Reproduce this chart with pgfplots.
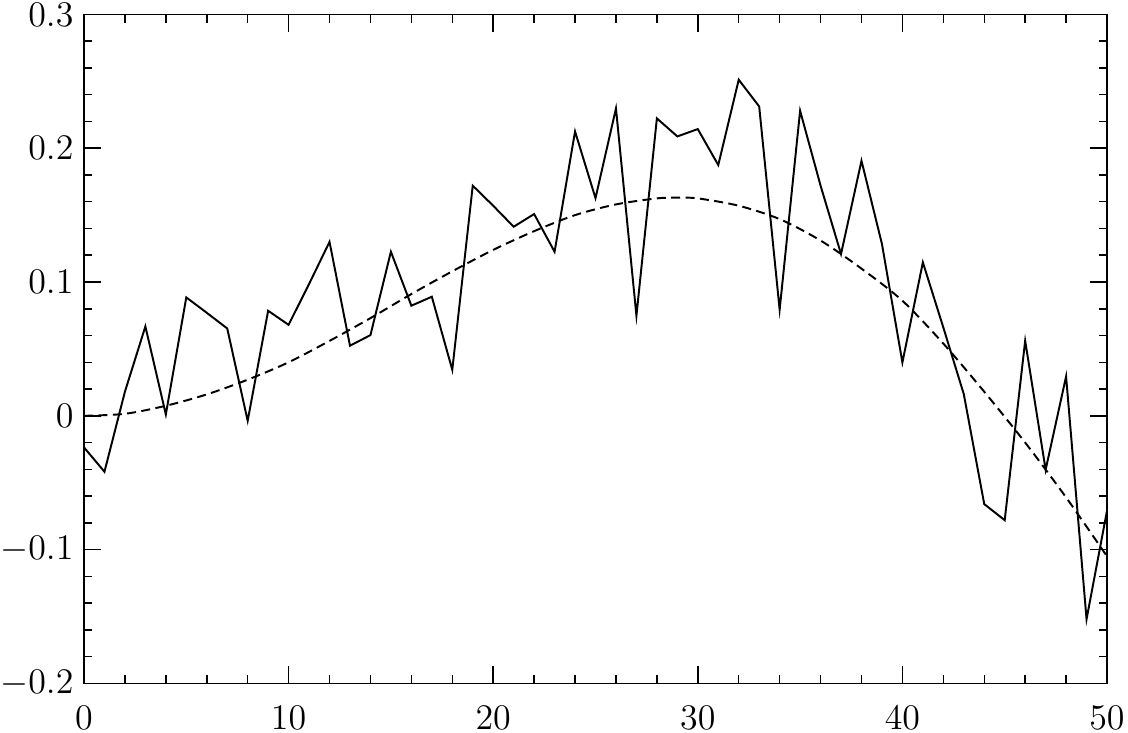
\documentclass[border=0pt]{standalone}
\usepackage{pgfplots}
\pgfplotsset{compat=1.18}
\begin{document}
\begin{tikzpicture}
\begin{axis}[
  scale only axis,
  width=341pt, height=223pt,
  xmin=0, xmax=50, ymin=-0.2, ymax=0.3,
  xtick={0,10,20,30,40,50},
  ytick={-0.2,-0.1,0,0.1,0.2,0.3},
  yticklabels={$-0.2$,$-0.1$,$0$,$0.1$,$0.2$,$0.3$},
  minor x tick num=4, minor y tick num=4,
  tick align=inside,
  major tick length=5.7pt, minor tick length=2.7pt,
  axis line style={line width=0.55pt},
  every tick/.style={black, line width=0.5pt},
  tick label style={font=\fontsize{12}{14}\selectfont},
  xticklabel style={yshift=-4.0pt},
  clip=true,
]
\addplot[black, line width=0.65pt, mark=none] coordinates {
(0,-0.0236) (1,-0.0418) (2,0.018) (3,0.0668) (4,0.001) (5,0.0885)
(6,0.077) (7,0.0653) (8,-0.0037) (9,0.0785) (10,0.068) (11,0.0985)
(12,0.130) (13,0.0524) (14,0.0603) (15,0.1226) (16,0.0823) (17,0.089)
(18,0.0344) (19,0.172) (20,0.157) (21,0.1413) (22,0.1508) (23,0.1226)
(24,0.2125) (25,0.1627) (26,0.2297) (27,0.0748) (28,0.2223) (29,0.2088)
(30,0.2143) (31,0.1874) (32,0.2512) (33,0.2312) (34,0.0793) (35,0.228)
(36,0.172) (37,0.1209) (38,0.1906) (39,0.1284) (40,0.0399) (41,0.1147)
(42,0.066) (43,0.0162) (44,-0.066) (45,-0.078) (46,0.0561) (47,-0.0403)
(48,0.0294) (49,-0.152) (50,-0.0709)
};
\addplot[black, line width=0.65pt, mark=none, smooth, dash pattern=on 3pt off 1.8pt] coordinates {
(0,0) (2,0.0015) (4,0.0075) (6,0.016) (8,0.027) (10,0.040) (12,0.056)
(14,0.073) (16,0.091) (18,0.108) (20,0.124) (22,0.138) (24,0.150)
(26,0.158) (28,0.1625) (29,0.163) (30,0.1625) (32,0.157) (34,0.147)
(36,0.131) (38,0.110) (40,0.086) (42,0.054) (44,0.018) (46,-0.020)
(48,-0.061) (50,-0.105)
};
\end{axis}
\pgfresetboundingbox
\path ([xshift=-28pt,yshift=4.8pt]current axis.north west) rectangle ([xshift=7pt,yshift=-16.5pt]current axis.south east);
\end{tikzpicture}
\end{document}
